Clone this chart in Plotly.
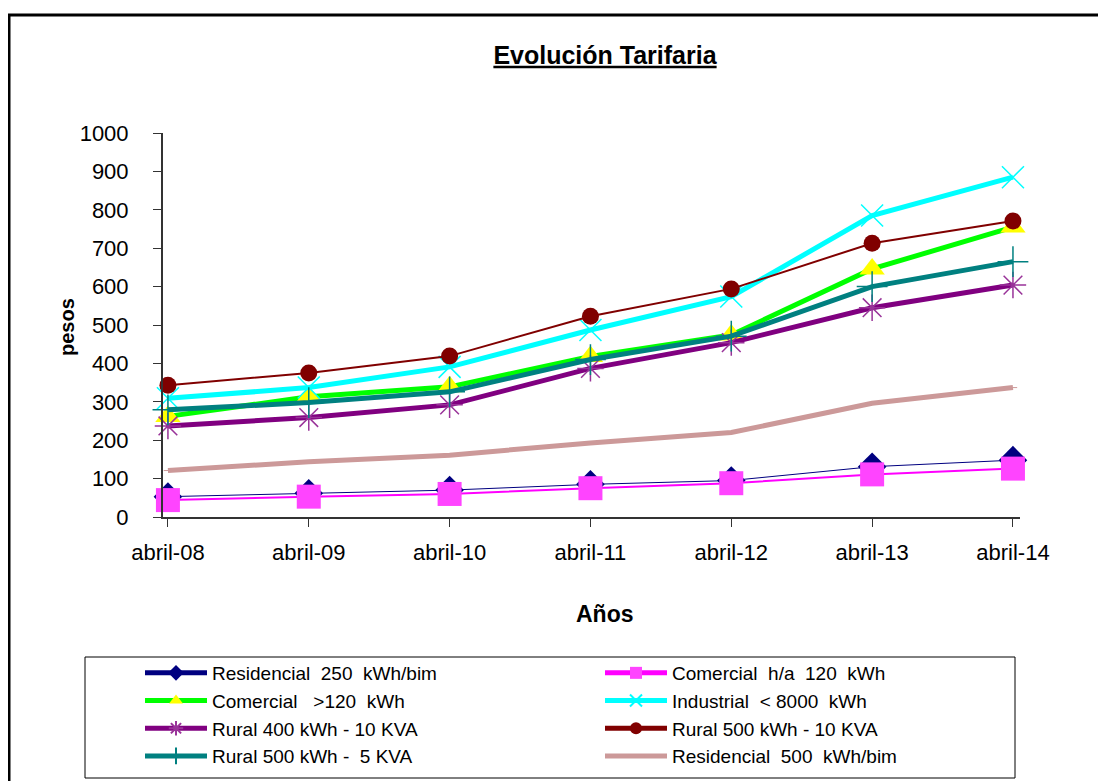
import plotly.graph_objects as go

# ---------------------------------------------------------------------------
# Data
# ---------------------------------------------------------------------------
years = ["abril-08", "abril-09", "abril-10", "abril-11", "abril-12", "abril-13", "abril-14"]

residencial_250 = [53, 62, 70, 85, 95, 131, 148]
comercial_ha_120 = [44, 53, 60, 75, 88, 111, 126]
comercial_mas_120 = [262, 313, 339, 418, 474, 646, 755]
industrial_8000 = [309, 337, 391, 487, 574, 785, 885]
rural_400_10kva = [237, 259, 292, 387, 454, 545, 604]
rural_500_10kva = [343, 375, 419, 523, 594, 713, 771]
rural_500_5kva = [279, 298, 326, 410, 471, 600, 665]
residencial_500 = [121, 144, 161, 193, 220, 296, 337]

series_names = [
    "Residencial  250  kWh/bim",
    "Comercial  h/a  120  kWh",
    "Comercial   >120  kWh",
    "Industrial  < 8000  kWh",
    "Rural 400 kWh - 10 KVA",
    "Rural 500 kWh - 10 KVA",
    "Rural 500 kWh -  5 KVA",
    "Residencial  500  kWh/bim",
]
series_values = [
    residencial_250, comercial_ha_120, comercial_mas_120, industrial_8000,
    rural_400_10kva, rural_500_10kva, rural_500_5kva, residencial_500,
]

# line colour, line width, marker symbol, marker size, marker colour, marker line
_STYLES = [
    ("#000080", 1, "diamond", 22, "#000080", 0),
    ("#FF00FF", 2, "square", 24, "#FF44FF", 0),
    ("#00FF00", 5, "triangle-up", 22, "#FFFF00", 0),
    ("#00FFFF", 5, "x-thin-open", 22, "#00FFFF", 1.5),
    ("#800080", 5, "asterisk-open", 22, "#993399", 1.5),
    ("#800000", 2, "circle", 17, "#800000", 0),
    ("#008080", 5, "cross-thin-open", 22, "#008080", 1.5),
    ("#CC9999", 5, "line-ew-open", 6, "#CC9999", 1),
]

FONT = "Liberation Sans, Arial, sans-serif"

# the page body adds an 8px margin, so all reference pixel targets are shifted
OFF = 8
W, H = 1106, 781
L, R, T, B = 163 - OFF, 1020 - OFF, 133 - OFF, 517 - OFF


def px_x(px):
    return (px - OFF - L) / (R - L)


def px_y(py):
    return (B - (py - OFF)) / (B - T)


fig = go.Figure()
x_idx = list(range(len(years)))

for i, (name, vals, (lc, lw, sym, ms, mc, mlw)) in enumerate(
    zip(series_names, series_values, _STYLES)
):
    fig.add_trace(
        go.Scatter(
            x=x_idx,
            y=vals,
            name=name,
            mode="lines+markers",
            line={"color": lc, "width": lw},
            marker={
                "symbol": sym,
                "size": ms,
                "color": mc,
                "line": {"color": mc, "width": mlw},
            },
            cliponaxis=False,
            legend="legend" if i % 2 == 0 else "legend2",
        )
    )

# outer frame (top + left) and legend box
shapes = [
    dict(type="line", xref="paper", yref="paper", x0=px_x(0), x1=px_x(W + 20),
         y0=px_y(15), y1=px_y(15), line={"color": "black", "width": 3}),
    dict(type="line", xref="paper", yref="paper", x0=px_x(OFF + 1), x1=px_x(OFF + 1),
         y0=px_y(15), y1=px_y(H + 20), line={"color": "black", "width": 3}),
    dict(type="rect", xref="paper", yref="paper", x0=px_x(85), x1=px_x(1015),
         y0=px_y(657), y1=px_y(778), line={"color": "black", "width": 1}),
]

annotations = [
    dict(text="<b>Años</b>", xref="paper", yref="paper", x=px_x(605), y=px_y(614),
         xanchor="center", yanchor="middle", showarrow=False,
         font={"size": 23, "family": FONT, "color": "black"}),
    dict(text="<b>pesos</b>", xref="paper", yref="paper", x=px_x(67), y=px_y(327),
         xanchor="center", yanchor="middle", showarrow=False, textangle=-90,
         font={"size": 20, "family": FONT, "color": "black"}),
]

_legend_common = {
    "orientation": "v",
    "xanchor": "left",
    "y": px_y(654),
    "yanchor": "top",
    "itemsizing": "constant",
    "itemwidth": 62,
    "font": {"size": 19, "family": FONT},
    "bgcolor": "rgba(0,0,0,0)",
    "traceorder": "normal",
}

fig.update_layout(
    width=W,
    height=H,
    margin={"l": L, "r": W - R, "t": T, "b": H - B, "autoexpand": False},
    paper_bgcolor="white",
    plot_bgcolor="white",
    font={"family": FONT, "color": "black", "size": 18},
    title={
        "text": "<b><u>Evolución Tarifaria</u></b>",
        "x": (605 - OFF) / W,
        "xanchor": "center",
        "y": 1 - (55 - OFF) / H,
        "yanchor": "middle",
        "font": {"size": 25, "family": FONT, "color": "black"},
    },
    xaxis={
        "range": [-0.035, 6.05],
        "tickvals": x_idx,
        "ticktext": years,
        "showgrid": False,
        "zeroline": False,
        "showline": True,
        "linecolor": "#333333",
        "linewidth": 2,
        "ticks": "outside",
        "ticklen": 8,
        "tickcolor": "#333333",
        "ticklabelstandoff": 7,
        "tickfont": {"size": 22},
    },
    yaxis={
        "range": [0, 1000],
        "dtick": 100,
        "showgrid": False,
        "zeroline": False,
        "showline": True,
        "linecolor": "#333333",
        "linewidth": 2,
        "ticks": "outside",
        "ticklen": 8,
        "tickcolor": "#333333",
        "ticklabelstandoff": 20,
        "tickfont": {"size": 22},
    },
    legend=dict(_legend_common, x=px_x(140)),
    legend2=dict(_legend_common, x=px_x(600)),
    shapes=shapes,
    annotations=annotations,
)

fig.write_html("out.html")
